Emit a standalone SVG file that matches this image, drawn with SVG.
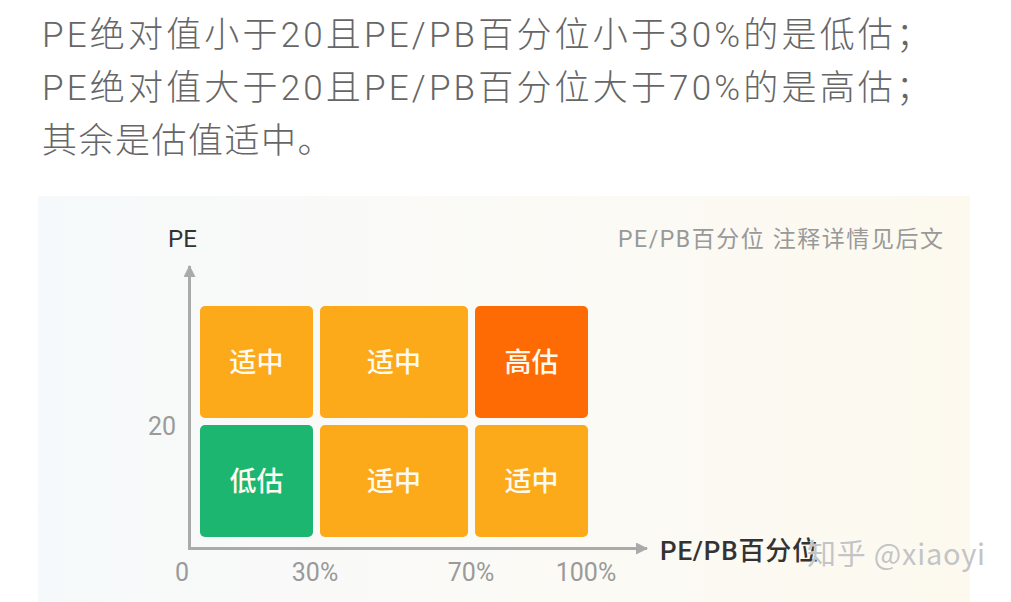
<svg xmlns="http://www.w3.org/2000/svg" width="1011" height="602" viewBox="0 0 1011 602">
  <defs>
    <linearGradient id="panelBg" x1="0" y1="0" x2="1" y2="0">
      <stop offset="0" stop-color="#f6f9fb"/>
      <stop offset="0.5" stop-color="#fbfaf6"/>
      <stop offset="1" stop-color="#fdf9ef"/>
    </linearGradient>
    <marker id="arrow" viewBox="0 0 12 12" refX="11" refY="6" markerWidth="12" markerHeight="12" markerUnits="userSpaceOnUse" orient="auto">
      <path d="M0,0 L12,6 L0,12 z" fill="#aaaaaa"/>
    </marker>
    <style>
      .hdr { font-family: "Roboto", "Noto Sans CJK SC", sans-serif; font-size: 35px; fill: #666666; font-weight: 300; }
      .cell { font-family: "Noto Sans CJK SC", "Noto Sans", sans-serif; font-size: 27px; fill: #fffaf0; text-anchor: middle; font-weight: 500; }
      .tick { font-family: "Roboto", "Noto Sans", sans-serif; font-size: 25px; fill: #9a9a9a; text-anchor: middle; }
      .axis { stroke: #aaaaaa; stroke-width: 3; fill: none; }
      .mid { fill: #fca91a; }
      .high { fill: #fe6a03; }
      .low { fill: #1cb671; }
    </style>
  </defs>
  <rect x="0" y="0" width="1011" height="602" fill="#ffffff"/>

  <g id="header">
    <text class="hdr" x="42" y="47" textLength="889" lengthAdjust="spacing">PE绝对值小于20且PE/PB百分位小于30%的是低估；</text>
    <text class="hdr" x="42" y="100" textLength="889" lengthAdjust="spacing">PE绝对值大于20且PE/PB百分位大于70%的是高估；</text>
    <text class="hdr" x="42" y="153" letter-spacing="1.5">其余是估值适中。</text>
  </g>

  <rect id="panel" x="38" y="196" width="932" height="406" fill="url(#panelBg)"/>

  <g id="note">
    <text x="618" y="247" textLength="325" lengthAdjust="spacing" style="font-family:'Roboto','Noto Sans CJK SC',sans-serif;font-size:23px;fill:#999999">PE/PB百分位 注释详情见后文</text>
  </g>

  <g id="connectors">
    <line class="axis" x1="189.5" y1="549" x2="189.5" y2="266" marker-end="url(#arrow)"/>
    <line class="axis" x1="188" y1="548.5" x2="647" y2="548.5" marker-end="url(#arrow)"/>
  </g>

  <g id="y-axis-label">
    <text x="168" y="247" style="font-family:'Roboto','Noto Sans',sans-serif;font-size:24px;fill:#333333">PE</text>
  </g>
  <g id="x-axis-label">
    <text x="660" y="560" textLength="158" lengthAdjust="spacing" style="font-family:'Roboto','Noto Sans CJK SC',sans-serif;font-size:26px;fill:#333333;font-weight:500">PE/PB百分位</text>
  </g>

  <g id="ticks">
    <text class="tick" x="162" y="435">20</text>
    <text class="tick" x="182" y="581">0</text>
    <text class="tick" x="315" y="581">30%</text>
    <text class="tick" x="471" y="581">70%</text>
    <text class="tick" x="586" y="581">100%</text>
  </g>

  <g id="cell-top-left">
    <rect class="mid" x="200" y="306" width="113" height="112" rx="5"/>
    <text class="cell" x="256.5" y="372">适中</text>
  </g>
  <g id="cell-top-mid">
    <rect class="mid" x="320" y="306" width="148" height="112" rx="5"/>
    <text class="cell" x="394" y="372">适中</text>
  </g>
  <g id="cell-top-right">
    <rect class="high" x="475" y="306" width="113" height="112" rx="5"/>
    <text class="cell" x="531.5" y="372">高估</text>
  </g>
  <g id="cell-bottom-left">
    <rect class="low" x="200" y="425" width="113" height="112" rx="5"/>
    <text class="cell" x="256.5" y="491">低估</text>
  </g>
  <g id="cell-bottom-mid">
    <rect class="mid" x="320" y="425" width="148" height="112" rx="5"/>
    <text class="cell" x="394" y="491">适中</text>
  </g>
  <g id="cell-bottom-right">
    <rect class="mid" x="475" y="425" width="113" height="112" rx="5"/>
    <text class="cell" x="531.5" y="491">适中</text>
  </g>

  <g id="watermark">
    <text x="807" y="565" textLength="178" lengthAdjust="spacing" style="font-family:'Noto Sans CJK SC','Noto Sans',sans-serif;font-size:29px;fill:#c4c4c4;stroke:#ffffff;stroke-width:0.6;paint-order:stroke">知乎 @xiaoyi</text>
  </g>
</svg>
